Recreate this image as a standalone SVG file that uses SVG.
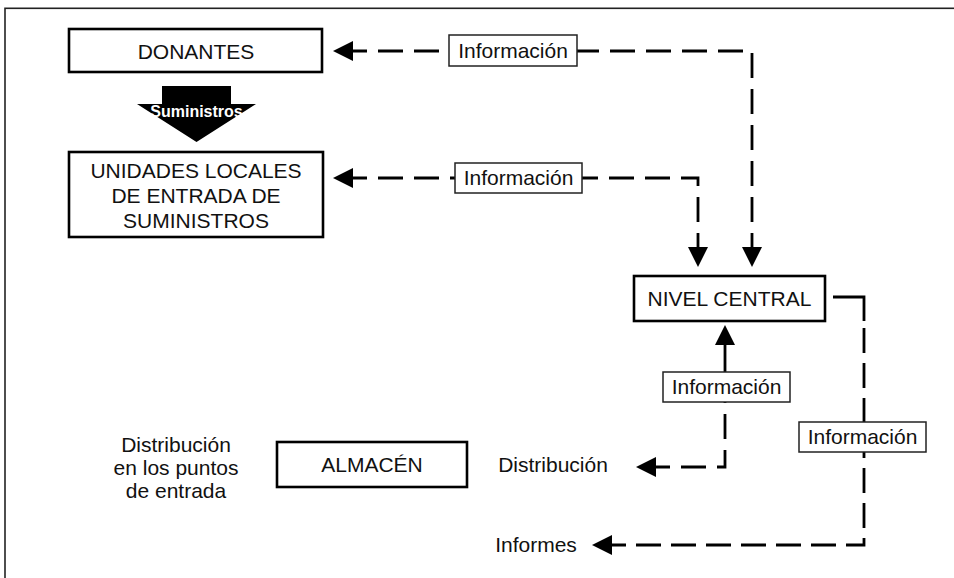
<svg xmlns="http://www.w3.org/2000/svg" width="954" height="578" viewBox="0 0 954 578">
<style>
  .frame{fill:none;stroke:#222;stroke-width:1.6}
  .box{fill:#fff;stroke:#000;stroke-width:2.6}
  .lbl{fill:#fff;stroke:#222;stroke-width:1.5}
  .t{font-family:"Liberation Sans",Arial,sans-serif;font-size:21px;fill:#111;text-anchor:middle}
  .dash{fill:none;stroke:#000;stroke-width:2.8;stroke-dasharray:25 11;marker-start:url(#ah)}
  .solid{fill:none;stroke:#000;stroke-width:2.8;marker-start:url(#ah)}
  .plain{fill:none;stroke:#000;stroke-width:2.8}
  .sum{font-family:"Liberation Sans",Arial,sans-serif;font-size:16px;font-weight:bold;fill:#fff;text-anchor:middle}
</style>
<defs>
  <marker id="ah" markerUnits="userSpaceOnUse" viewBox="0 0 20 20" markerWidth="20" markerHeight="20" refX="11" refY="10" orient="auto-start-reverse">
    <path d="M0,0 L20,10 L0,20 z" fill="#000"/>
  </marker>
</defs>
<rect width="954" height="578" fill="#fff"/>
<rect class="frame" x="5" y="8.3" width="1000" height="700"/>

<g id="connectors">
  <path class="dash" d="M342,51 H449"/>
  <path class="dash" d="M752,258 V51 H577"/>
  <path class="dash" d="M342,178 H455"/>
  <path class="dash" d="M698,258 V178 H582"/>
  <path class="solid" d="M725,334 V372"/>
  <path class="dash" d="M645,467 H725 V402"/>
  <path class="dash" style="stroke-dasharray:25 10" d="M601,545 H864 V328"/>
  <path class="plain" d="M833,297 H864 V321"/>
  <g id="lbl1"><rect class="lbl" x="449" y="35" width="128" height="31"/><text class="t" x="513" y="58">Información</text></g>
  <g id="lbl2"><rect class="lbl" x="455" y="163" width="127" height="30"/><text class="t" x="518.5" y="185">Información</text></g>
  <g id="lbl3"><rect class="lbl" x="663" y="372" width="127" height="30"/><text class="t" x="726.5" y="394">Información</text></g>
  <g id="lbl4"><rect class="lbl" x="799" y="422" width="127" height="30"/><text class="t" x="862.5" y="444">Información</text></g>
</g>

<g id="donantes">
  <rect class="box" x="69" y="29" width="253" height="43"/>
  <text class="t" x="196" y="59">DONANTES</text>
</g>

<g id="suministros">
  <path d="M162,86 H231 V104 H256 L196.5,142 L137,104 H162 Z" fill="#000"/>
  <text class="sum" x="196.5" y="117">Suministros</text>
</g>

<g id="unidades">
  <rect class="box" x="69" y="152" width="254" height="85"/>
  <text class="t" x="196" y="178">UNIDADES LOCALES</text>
  <text class="t" x="196" y="203">DE ENTRADA DE</text>
  <text class="t" x="196" y="228">SUMINISTROS</text>
</g>

<g id="nivel">
  <rect class="box" x="634" y="276" width="191" height="45"/>
  <text class="t" x="729.5" y="306">NIVEL CENTRAL</text>
</g>

<g id="almacen">
  <rect class="box" x="277" y="442" width="190" height="45"/>
  <text class="t" x="372" y="472">ALMACÉN</text>
</g>

<g id="dist-puntos">
  <text class="t" x="176" y="452">Distribución</text>
  <text class="t" x="176" y="475">en los puntos</text>
  <text class="t" x="176" y="498">de entrada</text>
</g>

<g id="distribucion">
  <text class="t" x="553" y="472">Distribución</text>
</g>

<g id="informes">
  <text class="t" x="536" y="552">Informes</text>
</g>
</svg>
